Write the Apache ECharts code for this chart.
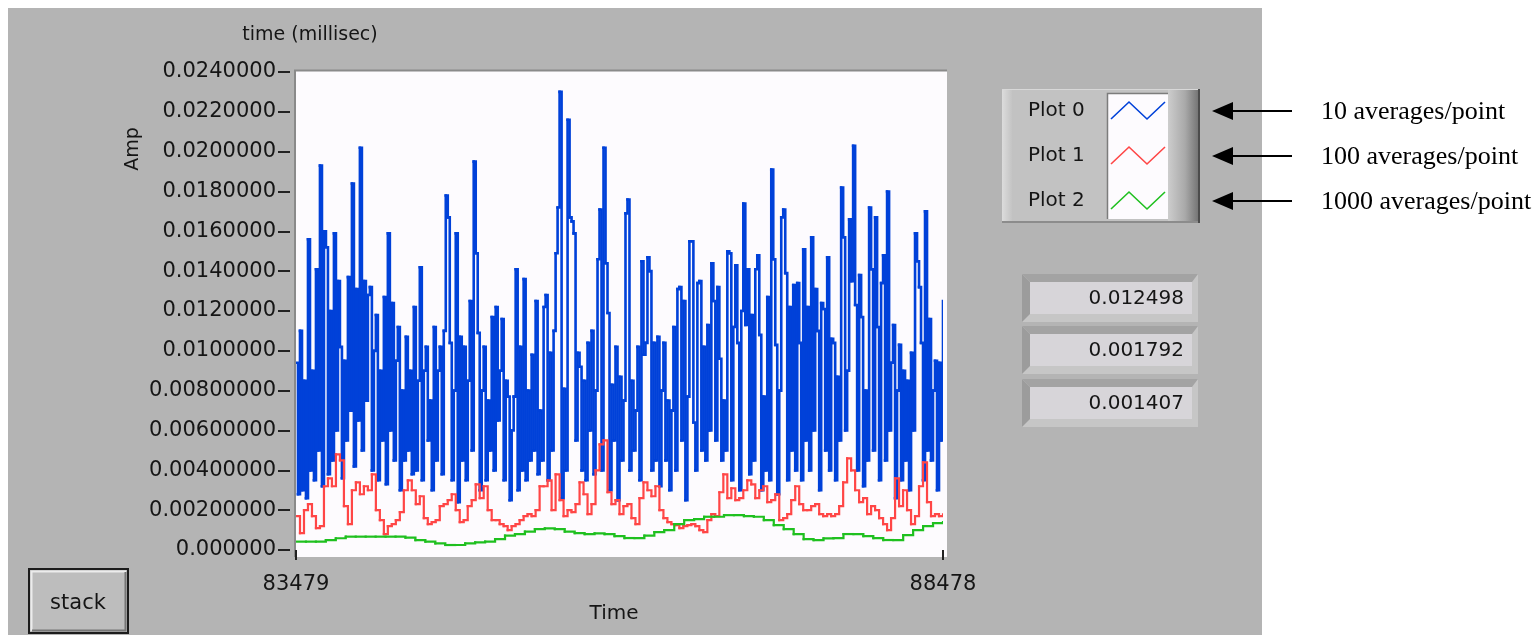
<!DOCTYPE html>
<html>
<head>
<meta charset="utf-8">
<script src="https://cdn.jsdelivr.net/npm/echarts@6/dist/echarts.min.js"></script>
<style>
  html, body { margin: 0; padding: 0; background: #ffffff; }
  #chart { width: 1539px; height: 635px; }
</style>
</head>
<body>
<div id="chart"></div>
<script>
// Time span of the chart history (milliseconds)
const T_START = 83479;
const T_END = 88478;
const xTickValues = [83479, 88478];

// Amplitude readings, recorded in thousandths of an Amp
const AMP_UNIT = 1e-3;

// Plot 0: 10 averages/point
const plot0 = [
  9.4,2.8,11.0,3.0,8.5,2.6,15.6,4.0,9.0,3.5,
  14.1,5.0,19.3,3.2,16.0,15.2,3.8,12.0,4.5,15.9,
  6.0,13.5,10.2,3.6,9.5,5.5,13.7,7.0,18.4,4.2,
  13.1,6.5,20.2,5.0,13.5,7.5,12.8,13.2,4.0,10.0,
  11.8,3.5,9.0,5.5,12.7,3.3,15.9,6.0,12.4,4.5,
  9.5,11.2,3.0,8.0,4.5,10.7,5.0,9.0,3.8,12.2,
  4.0,8.5,14.2,3.5,9.0,10.2,5.5,7.5,3.0,11.2,
  4.5,9.0,10.2,3.8,11.0,17.8,16.7,10.4,3.5,8.0,
  15.9,2.4,10.7,4.5,10.2,3.5,8.5,12.5,5.0,19.5,
  14.9,10.9,3.0,8.0,10.2,3.5,7.5,5.0,11.7,4.0,
  12.2,6.5,9.0,11.6,3.5,8.5,7.7,2.5,6.0,
  7.7,14.1,3.0,10.2,4.0,13.6,3.5,8.0,4.5,9.8,
  5.0,12.5,3.8,7.0,4.5,12.2,12.8,3.5,9.9,5.0,
  11.0,14.9,17.2,23.0,2.6,8.1,4.0,21.6,16.7,16.5,
  15.9,5.5,9.9,9.2,4.0,8.5,3.5,10.4,6.0,11.0,
  3.8,8.0,14.6,17.1,4.0,20.2,14.4,11.9,3.0,8.3,
  5.5,10.2,2.5,8.7,4.5,7.5,16.9,17.6,4.0,8.5,
  5.0,7.0,10.2,3.5,14.5,9.8,10.4,14.7,14.0,4.0,
  10.4,4.5,10.7,3.2,8.0,10.4,4.5,7.5,3.0,7.0,
  11.2,4.0,13.1,13.2,5.5,12.5,2.5,7.7,15.5,15.5,
  6.4,4.0,13.4,13.5,5.0,10.2,4.5,11.3,6.0,14.4,
  12.5,5.5,13.2,9.6,4.5,7.5,5.0,15.0,
  14.9,3.5,11.2,14.3,10.4,3.0,12.0,17.4,11.3,14.1,
  3.8,11.8,4.5,14.1,14.8,10.8,3.0,7.7,4.0,12.7,
  3.5,19.1,14.6,10.3,2.8,8.0,16.7,17.1,13.9,3.5,
  12.2,5.0,13.3,4.0,13.4,10.4,3.5,15.1,5.5,12.2,
  4.0,15.7,6.0,13.1,11.0,3.0,12.4,12.1,5.0,14.7,
  4.0,10.6,10.4,3.5,8.7,5.5,18.2,15.7,6.0,9.0,
  16.6,13.5,20.3,12.3,4.0,13.8,11.7,3.2,8.0,4.5,
  17.2,14.1,5.0,16.7,11.2,3.5,13.4,14.8,4.5,18.0,
  6.0,9.4,11.3,2.6,8.0,10.3,3.5,9.0,4.5,8.5,
  3.0,9.9,6.0,15.9,14.5,13.2,10.4,3.5,17.0,5.0,
  11.6,4.5,8.0,9.5,3.0,9.4,5.5,12.498
];

// Plot 1: 100 averages/point
const plot1 = [
  1.7,0.85,2.0,2.3,1.7,1.1,1.2,3.2,3.6,3.2,
  4.8,4.5,2.2,1.3,3.0,3.4,2.8,3.2,3.0,3.8,
  2.0,1.5,0.8,1.2,1.3,1.5,1.9,3.0,3.5,3.0,
  2.3,2.7,1.6,1.3,1.4,1.5,2.2,2.3,2.5,2.8,
  2.0,1.4,1.5,2.2,2.5,3.3,2.6,3.2,2.0,1.5,
  1.5,1.3,1.2,1.0,1.2,1.3,1.5,1.7,1.8,1.7,
  2.0,3.2,3.2,3.5,2.0,3.8,2.5,1.7,2.0,1.9,
  2.3,3.4,2.8,1.8,2.3,4.0,5.3,5.5,2.9,2.3,
  2.5,1.8,2.2,2.3,1.6,1.3,2.6,3.4,3.0,2.7,
  3.2,2.0,1.6,1.4,1.3,1.25,1.1,1.2,1.25,1.3,
  1.2,1.0,0.9,1.5,1.8,1.7,2.9,3.8,2.6,3.1,
  2.5,2.6,3.0,3.5,3.3,2.6,3.0,3.2,2.4,2.5,
  2.8,1.5,1.6,1.8,2.5,3.2,2.3,2.0,2.0,2.2,
  2.3,1.8,1.7,1.8,1.7,1.8,2.2,3.4,4.6,4.0,
  3.0,2.4,2.6,1.8,2.2,2.0,1.6,1.3,1.0,1.6,
  3.6,2.2,3.0,2.0,1.3,1.7,3.2,4.4,2.4,1.7,
  1.8,1.7,1.792
];

// Plot 2: 1000 averages/point
const plot2 = [
  0.42,0.42,0.42,0.5,0.59,0.67,0.67,0.67,0.67,0.67,
  0.67,0.62,0.5,0.42,0.33,0.25,0.25,0.33,0.38,0.42,
  0.55,0.72,0.8,0.92,1.05,1.09,1.05,0.92,0.85,0.8,
  0.83,0.8,0.7,0.6,0.6,0.72,0.9,1.0,1.3,1.5,
  1.55,1.67,1.67,1.75,1.75,1.7,1.67,1.5,1.25,1.05,
  0.8,0.55,0.5,0.58,0.6,0.8,0.8,0.7,0.6,0.5,
  0.5,0.75,1.0,1.2,1.35,1.407
];

const seriesNames = ['Plot 0', 'Plot 1', 'Plot 2'];
const seriesColors = ['#0041d9', '#ff4646', '#1fc01f'];
const lineWidths = [2.6, 2.2, 2.2];
const annotations = ['10 averages/point', '100 averages/point', '1000 averages/point'];

// Amplitude axis
const Y_MAX = 0.024;
const Y_STEP = 0.002;
const yTickLabels = [
  '0.000000', '0.00200000', '0.00400000', '0.00600000', '0.00800000',
  '0.0100000', '0.0120000', '0.0140000', '0.0160000', '0.0180000',
  '0.0200000', '0.0220000', '0.0240000'
];

const FONT = '"DejaVu Sans", Verdana, sans-serif';
const SERIF = '"Liberation Serif", "Times New Roman", serif';
const INK = '#151515';

function timeSeries(values) {
  const n = values.length;
  return values.map((v, i) => [T_START + (T_END - T_START) * i / (n - 1), v * AMP_UNIT]);
}

const allPlots = [plot0, plot1, plot2];
const traces = allPlots.map(timeSeries);
const lastValues = allPlots.map(p => (p[p.length - 1] * AMP_UNIT).toFixed(6));

// ---------- front panel decoration ----------
const graphics = [];
const back = -20;

graphics.push({ type: 'rect', z: back, shape: { x: 8, y: 8, width: 1254, height: 640 }, style: { fill: '#b4b4b4' } });

// plot area (sunken white field)
graphics.push({ type: 'rect', z: back + 1, shape: { x: 295, y: 70, width: 652, height: 487 }, style: { fill: '#fdfbfe' } });
graphics.push({ type: 'polyline', z: back + 2, shape: { points: [[295, 557], [295, 70.5], [947, 70.5]] }, style: { stroke: '#8a8a8a', lineWidth: 2, fill: null } });

// axis captions
graphics.push({ type: 'text', z: 50, x: 310, y: 35, style: { text: 'time (millisec)', fontSize: 19, fontFamily: FONT, fill: INK, align: 'center', verticalAlign: 'middle' } });
graphics.push({ type: 'text', z: 50, x: 133, y: 149, rotation: Math.PI / 2, style: { text: 'Amp', fontSize: 19, fontFamily: FONT, fill: INK, align: 'center', verticalAlign: 'middle' } });
graphics.push({ type: 'text', z: 50, x: 614, y: 614, style: { text: 'Time', fontSize: 20, fontFamily: FONT, fill: INK, align: 'center', verticalAlign: 'middle' } });

// "stack" button
graphics.push({ type: 'rect', z: 40, shape: { x: 29, y: 569, width: 99, height: 64 }, style: { fill: '#bdbdbd', stroke: '#1c1c1c', lineWidth: 2 } });
graphics.push({ type: 'polyline', z: 41, shape: { points: [[31.5, 631], [31.5, 571.5], [126, 571.5]] }, style: { stroke: '#ececec', lineWidth: 2, fill: null } });
graphics.push({ type: 'polyline', z: 41, shape: { points: [[125.5, 572], [125.5, 630.5], [32, 630.5]] }, style: { stroke: '#767676', lineWidth: 2, fill: null } });
graphics.push({ type: 'text', z: 42, x: 78, y: 604, style: { text: 'stack', fontSize: 21, fontFamily: FONT, fill: INK, align: 'center', verticalAlign: 'middle' } });

// plot legend
const legendRows = [111, 156, 201];
graphics.push({ type: 'rect', z: 40, shape: { x: 1002, y: 89, width: 198, height: 134 }, style: { fill: '#c2c2c2' } });
graphics.push({ type: 'rect', z: 41, shape: { x: 1002, y: 89, width: 10, height: 134 },
  style: { fill: { type: 'linear', x: 0, y: 0, x2: 1, y2: 0, colorStops: [{ offset: 0, color: '#dcdcdc' }, { offset: 1, color: '#c4c4c4' }] } } });
graphics.push({ type: 'line', z: 42, shape: { x1: 1002, y1: 89.5, x2: 1200, y2: 89.5 }, style: { stroke: '#d8d8d8', lineWidth: 1 } });
graphics.push({ type: 'line', z: 42, shape: { x1: 1002, y1: 222, x2: 1200, y2: 222 }, style: { stroke: '#8c8c8c', lineWidth: 2 } });
graphics.push({ type: 'rect', z: 41, shape: { x: 1168, y: 89, width: 31, height: 134 },
  style: { fill: { type: 'linear', x: 0, y: 0, x2: 1, y2: 0, colorStops: [{ offset: 0, color: '#cdcdcd' }, { offset: 0.55, color: '#a9a9a9' }, { offset: 1, color: '#727272' }] } } });
graphics.push({ type: 'line', z: 42, shape: { x1: 1199, y1: 89, x2: 1199, y2: 223 }, style: { stroke: '#4c4c4c', lineWidth: 2 } });
graphics.push({ type: 'rect', z: 42, shape: { x: 1107, y: 93, width: 61, height: 126 }, style: { fill: '#fdfbfe' } });
graphics.push({ type: 'polyline', z: 43, shape: { points: [[1107.5, 219], [1107.5, 93.5], [1168, 93.5]] }, style: { stroke: '#7c7c7c', lineWidth: 1.5, fill: null } });
legendRows.forEach((yc, k) => {
  graphics.push({ type: 'text', z: 44, x: 1028, y: yc, style: { text: seriesNames[k], fontSize: 20, fontFamily: FONT, fill: INK, align: 'left', verticalAlign: 'middle' } });
  graphics.push({ type: 'polyline', z: 44, shape: { points: [[1111, yc + 8], [1129, yc - 9], [1147, yc + 8], [1165, yc - 9]] }, style: { stroke: seriesColors[k], lineWidth: 1.6, fill: null } });
  // pointer and caption
  graphics.push({ type: 'line', z: 44, shape: { x1: 1228, y1: yc, x2: 1292, y2: yc }, style: { stroke: '#000', lineWidth: 2 } });
  graphics.push({ type: 'polygon', z: 44, shape: { points: [[1212, yc], [1233, yc - 9], [1233, yc + 9]] }, style: { fill: '#000' } });
  graphics.push({ type: 'text', z: 44, x: 1321, y: yc + 1, style: { text: annotations[k], fontSize: 26, fontFamily: SERIF, fill: '#000', align: 'left', verticalAlign: 'middle' } });
});

// numeric indicators (latest value of each plot)
const indicatorRows = [299, 351, 404];
indicatorRows.forEach((yc, k) => {
  const top = yc - 25, bot = yc + 23, l = 1022, r = 1198;
  graphics.push({ type: 'rect', z: 40, shape: { x: l, y: top, width: r - l, height: bot - top }, style: { fill: '#c6c6c6' } });
  graphics.push({ type: 'polygon', z: 41, shape: { points: [[l, top], [r, top], [r - 6, top + 8], [l + 8, top + 8]] }, style: { fill: '#a3a3a3' } });
  graphics.push({ type: 'polygon', z: 41, shape: { points: [[l, top], [l + 8, top + 8], [l + 8, yc + 15], [l, bot]] }, style: { fill: '#9c9c9c' } });
  graphics.push({ type: 'rect', z: 42, shape: { x: l + 8, y: top + 8, width: r - l - 14, height: 32 }, style: { fill: '#d7d5d9' } });
  graphics.push({ type: 'text', z: 43, x: 1184, y: yc, style: { text: lastValues[k], fontSize: 20, fontFamily: FONT, fill: INK, align: 'right', verticalAlign: 'middle' } });
});

// Each sample holds its value until the next one arrives: one step per sample,
// drawn as its own short polyline so no 2 px step gets merged with its neighbours.
function stepRenderer(k) {
  const pts = traces[k];
  return function (params, api) {
    const i = params.dataIndex;
    if (i >= pts.length - 1) return null;
    const a = api.coord(pts[i]);
    const b = api.coord([pts[i + 1][0], pts[i][1]]);
    const c = api.coord(pts[i + 1]);
    return {
      type: 'polyline',
      shape: { points: [a, b, c] },
      style: { stroke: seriesColors[k], lineWidth: lineWidths[k], fill: null, lineCap: 'square', lineJoin: 'miter' }
    };
  };
}

// ---------- chart ----------
const chart = echarts.init(document.getElementById('chart'), null, { renderer: 'canvas' });
chart.setOption({
  animation: false,
  backgroundColor: '#ffffff',
  grid: { left: 296, top: 72, width: 647, height: 478 },
  xAxis: {
    type: 'value',
    min: T_START,
    max: T_END,
    offset: 7,
    axisLine: { show: false },
    splitLine: { show: false },
    axisTick: { show: true, customValues: xTickValues, length: 10, lineStyle: { color: '#222', width: 2 } },
    axisLabel: { customValues: xTickValues, margin: 17, fontSize: 21, fontFamily: FONT, color: INK, formatter: v => String(v) }
  },
  yAxis: {
    type: 'value',
    min: 0,
    max: Y_MAX,
    interval: Y_STEP,
    offset: 6,
    axisLine: { show: false },
    splitLine: { show: false },
    axisTick: { show: true, length: 12, lineStyle: { color: '#222', width: 2 } },
    axisLabel: { margin: 14, fontSize: 21, fontFamily: FONT, color: INK, formatter: v => yTickLabels[Math.round(v / Y_STEP)] }
  },
  series: traces.map((t, k) => ({
    name: seriesNames[k],
    type: 'custom',
    data: t,
    encode: { x: 0, y: 1 },
    renderItem: stepRenderer(k),
    silent: true,
    clip: true,
    z: 3 + k
  })),
  graphic: { elements: graphics }
});
</script>
</body>
</html>
